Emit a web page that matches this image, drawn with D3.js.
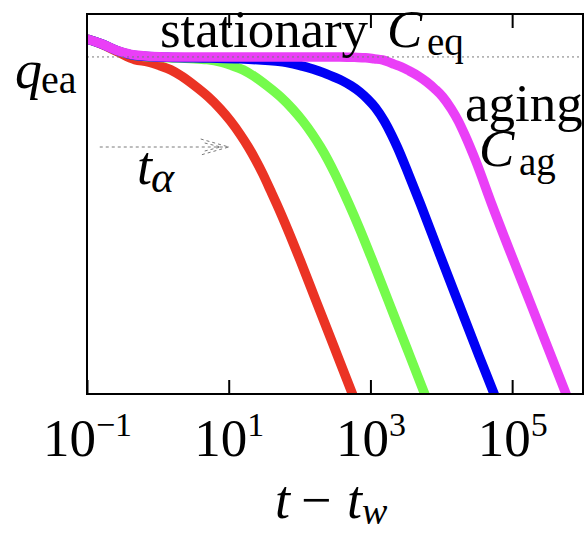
<!DOCTYPE html>
<html>
<head>
<meta charset="utf-8">
<script src="https://cdn.jsdelivr.net/npm/d3@7"></script>
<style>
  html, body { margin: 0; padding: 0; background: #fff; }
  svg { display: block; }
  text { font-family: "Liberation Serif", "Times New Roman", Times, serif; fill: #000; }
</style>
</head>
<body>
<svg id="chart" width="585" height="533"></svg>
<script>
// Two-time correlation C(t, t_w) versus t − t_w for four waiting times t_w.
// Each series is a list of [log10(t − t_w), C] pairs.

const tickExponents = [-1, 1, 3, 5];
const qEA = 0.887;            // plateau value q_ea
const arrowLevel = 0.65;      // height of the t_α arrow
const arrowFrom = -0.82;      // log10 start of the t_α arrow
const arrowTo = 1;            // log10 end of the t_α arrow

const redCurve = [
  [-1.000, 0.934], [-0.789, 0.920], [-0.563, 0.900], [-0.324, 0.880], [-0.141, 0.874],
  [0.028, 0.864], [0.183, 0.853], [0.338, 0.836], [0.521, 0.811], [0.710, 0.782],
  [0.882, 0.750], [1.027, 0.718], [1.159, 0.684], [1.276, 0.650], [1.380, 0.616],
  [1.482, 0.579], [1.594, 0.534], [1.677, 0.500], [1.834, 0.432], [2.006, 0.353],
  [2.228, 0.247], [2.493, 0.121], [2.746, 0.000], [2.915, -0.082]
];
const greenCurve = [
  [-1.000, 0.934], [-0.789, 0.921], [-0.563, 0.903], [-0.324, 0.891], [0.141, 0.885],
  [0.451, 0.883], [0.696, 0.880], [0.879, 0.874], [1.048, 0.864], [1.203, 0.853],
  [1.358, 0.836], [1.541, 0.811], [1.730, 0.782], [1.901, 0.750], [2.046, 0.718],
  [2.179, 0.684], [2.296, 0.650], [2.400, 0.616], [2.501, 0.579], [2.614, 0.534],
  [2.697, 0.500], [2.854, 0.432], [3.025, 0.353], [3.248, 0.247], [3.513, 0.121],
  [3.766, 0.000], [3.935, -0.082]
];
const blueCurve = [
  [-1.000, 0.934], [-0.789, 0.921], [-0.563, 0.903], [-0.324, 0.891], [0.141, 0.886],
  [0.732, 0.884], [1.155, 0.882], [1.465, 0.879], [1.662, 0.876], [1.807, 0.873],
  [1.927, 0.868], [2.037, 0.863], [2.137, 0.858], [2.269, 0.850], [2.386, 0.842],
  [2.487, 0.834], [2.606, 0.824], [2.728, 0.811], [2.849, 0.795], [2.961, 0.776],
  [3.072, 0.753], [3.196, 0.718], [3.293, 0.684], [3.379, 0.650], [3.537, 0.579],
  [3.706, 0.500], [3.972, 0.370], [4.254, 0.234], [4.535, 0.099], [4.746, 0.000],
  [4.915, -0.082]
];
const magentaCurve = [
  [-1.000, 0.934], [-0.789, 0.921], [-0.563, 0.903], [-0.324, 0.892], [0.141, 0.887],
  [1.296, 0.887], [2.000, 0.887], [2.563, 0.887], [2.775, 0.886], [2.930, 0.885],
  [3.056, 0.882], [3.169, 0.879], [3.252, 0.874], [3.331, 0.868], [3.434, 0.861],
  [3.551, 0.850], [3.675, 0.837], [3.796, 0.821], [3.908, 0.803], [4.020, 0.782],
  [4.142, 0.750], [4.241, 0.718], [4.327, 0.684], [4.487, 0.613], [4.711, 0.500],
  [5.241, 0.247], [5.761, 0.000], [5.932, -0.082]
];

const seriesData = [redCurve, greenCurve, blueCurve, magentaCurve];
const seriesColors = ["#EB3324", "#75FB4C", "#0000F5", "#EA3FF7"];

// ---- layout ----
const plot = { left: 87, right: 583, top: 14, bottom: 394 };

const svg = d3.select("#chart");

const x = d3.scaleLog().domain([1e-1, 1e6]).range([plot.left, plot.right]);
const y = d3.scaleLinear().domain([0, 1]).range([plot.bottom, plot.top]);
const xe = e => x(Math.pow(10, e));

svg.append("defs").append("clipPath").attr("id", "plot-clip")
  .append("rect")
  .attr("x", plot.left).attr("y", plot.top)
  .attr("width", plot.right - plot.left).attr("height", plot.bottom - plot.top);

// ---- curves ----
const line = d3.line()
  .x(d => xe(d[0]))
  .y(d => y(d[1]))
  .curve(d3.curveMonotoneX);

svg.append("g").attr("clip-path", "url(#plot-clip)")
  .selectAll("path")
  .data(seriesData)
  .join("path")
  .attr("d", line)
  .attr("fill", "none")
  .attr("stroke", (d, i) => seriesColors[i])
  .attr("stroke-width", 9.5)
  .attr("stroke-linejoin", "round");

// ---- plateau reference line ----
svg.append("line")
  .attr("x1", plot.left).attr("x2", plot.right)
  .attr("y1", y(qEA)).attr("y2", y(qEA))
  .attr("stroke", "#7a7a7a").attr("stroke-width", 1)
  .attr("stroke-dasharray", "2,3");

// ---- t_α arrow ----
const ay = y(arrowLevel);
const ax0 = xe(arrowFrom), ax1 = xe(arrowTo);
const arrowG = svg.append("g")
  .attr("fill", "none").attr("stroke", "#7a7a7a").attr("stroke-width", 1)
  .attr("stroke-dasharray", "3,3");
arrowG.append("line").attr("x1", ax0).attr("x2", ax1).attr("y1", ay).attr("y2", ay);
arrowG.append("path").attr("d", `M${ax1 - 28},${ay - 8} L${ax1},${ay} L${ax1 - 28},${ay + 8}`);
arrowG.append("path").attr("d", `M${ax1 - 24},${ay - 4} L${ax1 - 8},${ay} L${ax1 - 24},${ay + 4}`);

// ---- frame ----
svg.append("rect")
  .attr("x", plot.left).attr("y", plot.top)
  .attr("width", plot.right - plot.left).attr("height", plot.bottom - plot.top)
  .attr("fill", "none").attr("stroke", "#000").attr("stroke-width", 2);

// ---- axes ----
const tickVals = tickExponents.map(e => Math.pow(10, e));
const fmtExp = e => (e < 0 ? "\u2212" + Math.abs(e) : String(e));

const gx = svg.append("g")
  .attr("transform", `translate(0,${plot.bottom})`)
  .call(d3.axisBottom(x).tickValues(tickVals).tickSizeInner(-14).tickSizeOuter(0).tickFormat(""));
gx.attr("font-family", null).attr("font-size", null);
gx.select(".domain").remove();
gx.selectAll(".tick line").attr("stroke", "#000").attr("stroke-width", 2);
gx.selectAll(".tick text").each(function (d, i) {
  const t = d3.select(this)
    .text(null)
    .attr("y", 62).attr("dy", null)
    .attr("font-size", 53)
    .attr("text-anchor", "middle")
    .attr("fill", "#000");
  t.append("tspan").text("10");
  t.append("tspan").attr("dy", -20).attr("font-size", 34).text(fmtExp(tickExponents[i]));
});

const gt = svg.append("g")
  .attr("transform", `translate(0,${plot.top})`)
  .call(d3.axisTop(x).tickValues(tickVals.slice(1)).tickSizeInner(-14).tickSizeOuter(0).tickFormat(""));
gt.select(".domain").remove();
gt.selectAll(".tick line").attr("stroke", "#000").attr("stroke-width", 2);

// ---- labels ----
function label(txt, px, py, size, italic, len) {
  const t = svg.append("text")
    .attr("x", px).attr("y", py)
    .attr("font-size", size)
    .attr("font-style", italic ? "italic" : "normal")
    .text(txt);
  if (len) t.attr("textLength", len).attr("lengthAdjust", "spacing");
  return t;
}

// x-axis title: t − t_w
label("t", 275, 518, 54, true);
label("\u2212", 301, 518, 54, false);
label("t", 347, 518, 54, true);
label("w", 362, 524, 38, true);

// q_ea
label("q", 15, 88, 54, true);
label("ea", 41, 93, 40, false);

// stationary C_eq
label("stationary", 160, 47, 53, false, 208);
label("C", 387, 47, 53, true);
label("eq", 427, 55, 39, false);

// aging C_ag
label("aging", 465, 121, 53, false);
label("C", 479, 166, 53, true);
label("ag", 519, 175, 39, false);

// t_α
label("t", 137, 184, 54, true);
label("\u03b1", 151, 192, 44, true);
</script>
</body>
</html>
